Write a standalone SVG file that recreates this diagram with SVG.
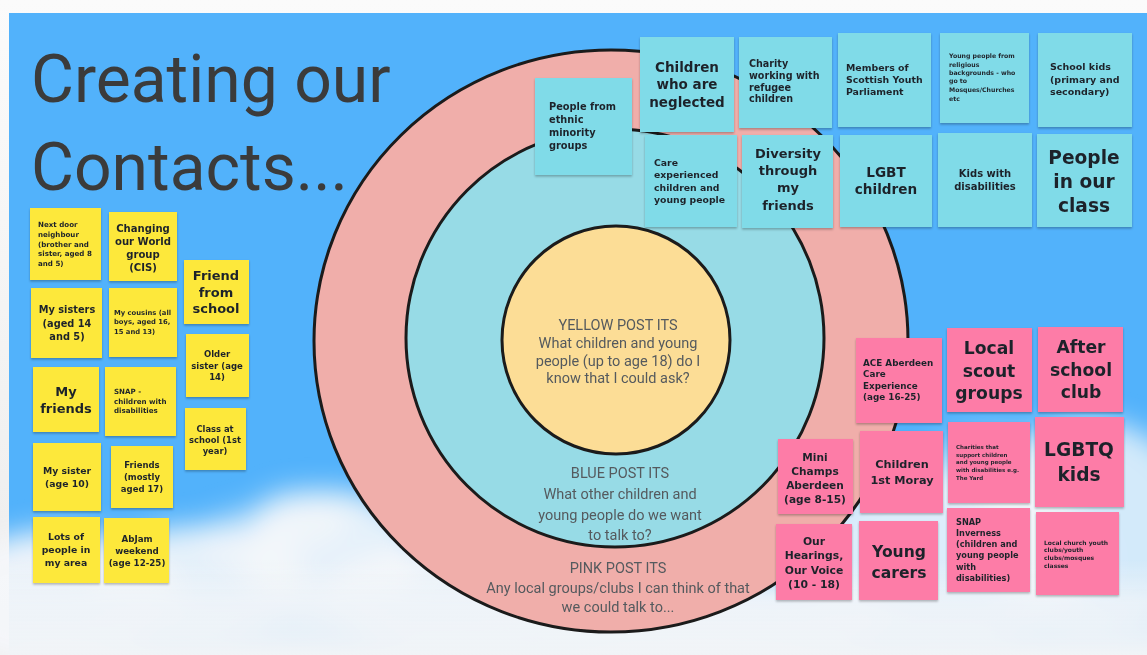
<svg xmlns="http://www.w3.org/2000/svg" width="1147" height="655" viewBox="0 0 1147 655">
  <defs>
    <style>
      .title { font-family: Roboto, "Liberation Sans", sans-serif; font-size: 66px; fill: #3b3b3b; }
      .ctext { font-family: Roboto, "Liberation Sans", sans-serif; font-size: 14.5px; fill: #555a5e; text-anchor: middle; }
      .n { font-family: "DejaVu Sans", "Liberation Sans", sans-serif; font-weight: 700; fill: #1f242b; }
      .c { text-anchor: middle; }
      .yel { fill: #fde83b; }
      .blu { fill: #80dbe8; }
      .pnk { fill: #fd7ca7; }
      .ring { stroke: #1b1b1b; stroke-width: 3; }
    </style>
    <filter id="shadow" x="-10%" y="-10%" width="125%" height="130%">
      <feDropShadow dx="0" dy="1.5" stdDeviation="1.3" flood-color="#000" flood-opacity="0.28"/>
    </filter>
    <filter id="cloudBlur" x="-20%" y="-50%" width="140%" height="200%">
      <feGaussianBlur stdDeviation="14"/>
    </filter>
    <linearGradient id="topFade" x1="0" y1="0" x2="0" y2="1">
      <stop offset="0" stop-color="#fbfbfb"/>
      <stop offset="1" stop-color="#ececec"/>
    </linearGradient>
    <linearGradient id="skyFade" x1="0" y1="0" x2="0" y2="1">
      <stop offset="0" stop-color="#eef3f8" stop-opacity="0"/>
      <stop offset="0.45" stop-color="#eef3f8" stop-opacity="0.85"/>
      <stop offset="1" stop-color="#f1f4f7"/>
    </linearGradient>
  </defs>

  <!-- page frame and sky -->
  <rect x="0" y="0" width="1147" height="655" fill="url(#topFade)"/>
  <rect x="9" y="13" width="1138" height="642" fill="#52b2fb"/>

  <!-- clouds along the bottom of the sky -->
  <g id="clouds" filter="url(#cloudBlur)" fill="#f4f7fa">
    <ellipse cx="60" cy="600" rx="120" ry="70" opacity="0.95"/>
    <ellipse cx="200" cy="585" rx="110" ry="60" opacity="0.9"/>
    <ellipse cx="330" cy="560" rx="90" ry="70" opacity="0.9"/>
    <ellipse cx="300" cy="520" rx="50" ry="30" opacity="0.7"/>
    <ellipse cx="250" cy="540" rx="50" ry="30" opacity="0.6"/>
    <ellipse cx="460" cy="600" rx="140" ry="60" opacity="0.95"/>
    <ellipse cx="700" cy="625" rx="200" ry="45" opacity="0.95"/>
    <ellipse cx="950" cy="560" rx="150" ry="90" opacity="0.85"/>
    <ellipse cx="1090" cy="530" rx="110" ry="110" opacity="0.8"/>
    <ellipse cx="1000" cy="470" rx="80" ry="40" opacity="0.5"/>
  </g>
  <rect x="9" y="560" width="1138" height="95" fill="url(#skyFade)"/>

  <!-- title -->
  <g id="title">
    <text class="title" x="31" y="102">Creating our</text>
    <text class="title" x="31" y="190">Contacts...</text>
  </g>

  <!-- concentric target circles -->
  <g id="circles">
    <ellipse id="ring-pink" class="ring" cx="611" cy="341" rx="297" ry="291" fill="#f0aeaa"/>
    <circle id="ring-blue" class="ring" cx="615" cy="338" r="209" fill="#97dbe6"/>
    <circle id="ring-yellow" class="ring" cx="616" cy="340" r="114" fill="#fcdd96"/>
  </g>

  <g id="circle-labels">
    <text class="ctext" x="618"><tspan x="618" y="330">YELLOW POST ITS</tspan><tspan x="618" y="348">What children and young</tspan><tspan x="618" y="366">people (up to age 18) do I</tspan><tspan x="618" y="383">know that I could ask?</tspan></text>
    <text class="ctext" x="620"><tspan x="620" y="478">BLUE POST ITS</tspan><tspan x="620" y="499">What other children and</tspan><tspan x="620" y="520">young people do we want</tspan><tspan x="620" y="540">to talk to?</tspan></text>
    <text class="ctext" x="618"><tspan x="618" y="573">PINK POST ITS</tspan><tspan x="618" y="593">Any local groups/clubs I can think of that</tspan><tspan x="618" y="612">we could talk to...</tspan></text>
  </g>

  <!-- yellow post-its -->
  <g id="yellow-notes">
    <g id="y-next-door" filter="url(#shadow)">
      <rect class="yel" x="30" y="208" width="71" height="72"/>
      <text class="n" font-size="7.1"><tspan x="38" y="227">Next door</tspan><tspan x="38" y="237">neighbour</tspan><tspan x="38" y="247">(brother and</tspan><tspan x="38" y="256">sister, aged 8</tspan><tspan x="38" y="266">and 5)</tspan></text>
    </g>
    <g id="y-changing-world" filter="url(#shadow)">
      <rect class="yel" x="109" y="212" width="68" height="69"/>
      <text class="n c" font-size="10.1"><tspan x="143" y="232">Changing</tspan><tspan x="143" y="245">our World</tspan><tspan x="143" y="258">group</tspan><tspan x="143" y="271">(CIS)</tspan></text>
    </g>
    <g id="y-friend-school" filter="url(#shadow)">
      <rect class="yel" x="184" y="260" width="65" height="64"/>
      <text class="n c" font-size="13"><tspan x="216" y="280">Friend</tspan><tspan x="216" y="297">from</tspan><tspan x="216" y="313">school</tspan></text>
    </g>
    <g id="y-my-sisters" filter="url(#shadow)">
      <rect class="yel" x="31" y="288" width="71" height="70"/>
      <text class="n c" font-size="9.8"><tspan x="67" y="313">My sisters</tspan><tspan x="67" y="327">(aged 14</tspan><tspan x="67" y="340">and 5)</tspan></text>
    </g>
    <g id="y-cousins" filter="url(#shadow)">
      <rect class="yel" x="109" y="288" width="68" height="69"/>
      <text class="n" font-size="6.8"><tspan x="114" y="315">My cousins (all</tspan><tspan x="114" y="324">boys, aged 16,</tspan><tspan x="114" y="334">15 and 13)</tspan></text>
    </g>
    <g id="y-older-sister" filter="url(#shadow)">
      <rect class="yel" x="186" y="334" width="63" height="63"/>
      <text class="n c" font-size="8.5"><tspan x="217" y="357">Older</tspan><tspan x="217" y="369">sister (age</tspan><tspan x="217" y="380">14)</tspan></text>
    </g>
    <g id="y-my-friends" filter="url(#shadow)">
      <rect class="yel" x="33" y="367" width="66" height="65"/>
      <text class="n c" font-size="13"><tspan x="66" y="396">My</tspan><tspan x="66" y="413">friends</tspan></text>
    </g>
    <g id="y-snap" filter="url(#shadow)">
      <rect class="yel" x="105" y="367" width="71" height="69"/>
      <text class="n" font-size="7.1"><tspan x="114" y="394">SNAP -</tspan><tspan x="114" y="404">children with</tspan><tspan x="114" y="413">disabilities</tspan></text>
    </g>
    <g id="y-class-school" filter="url(#shadow)">
      <rect class="yel" x="185" y="408" width="61" height="62"/>
      <text class="n c" font-size="8.4"><tspan x="215" y="432">Class at</tspan><tspan x="215" y="443">school (1st</tspan><tspan x="215" y="454">year)</tspan></text>
    </g>
    <g id="y-my-sister" filter="url(#shadow)">
      <rect class="yel" x="33" y="443" width="68" height="68"/>
      <text class="n c" font-size="9.3"><tspan x="67" y="474">My sister</tspan><tspan x="67" y="487">(age 10)</tspan></text>
    </g>
    <g id="y-friends-17" filter="url(#shadow)">
      <rect class="yel" x="111" y="446" width="62" height="62"/>
      <text class="n c" font-size="8.5"><tspan x="142" y="468">Friends</tspan><tspan x="142" y="480">(mostly</tspan><tspan x="142" y="492">aged 17)</tspan></text>
    </g>
    <g id="y-lots-people" filter="url(#shadow)">
      <rect class="yel" x="33" y="517" width="67" height="66"/>
      <text class="n c" font-size="9.3"><tspan x="66" y="540">Lots of</tspan><tspan x="66" y="553">people in</tspan><tspan x="66" y="566">my area</tspan></text>
    </g>
    <g id="y-abjam" filter="url(#shadow)">
      <rect class="yel" x="104" y="518" width="65" height="65"/>
      <text class="n c" font-size="8.7"><tspan x="137" y="542">AbJam</tspan><tspan x="137" y="554">weekend</tspan><tspan x="137" y="566">(age 12-25)</tspan></text>
    </g>
  </g>

  <!-- blue post-its -->
  <g id="blue-notes">
    <g id="b-ethnic" filter="url(#shadow)">
      <rect class="blu" x="535" y="78" width="97" height="97"/>
      <text class="n" font-size="9.8"><tspan x="549" y="110">People from</tspan><tspan x="549" y="123">ethnic</tspan><tspan x="549" y="136">minority</tspan><tspan x="549" y="149">groups</tspan></text>
    </g>
    <g id="b-neglected" filter="url(#shadow)">
      <rect class="blu" x="640" y="37" width="94" height="95"/>
      <text class="n c" font-size="13.5"><tspan x="687" y="72">Children</tspan><tspan x="687" y="89">who are</tspan><tspan x="687" y="107">neglected</tspan></text>
    </g>
    <g id="b-charity-refugee" filter="url(#shadow)">
      <rect class="blu" x="739" y="37" width="93" height="91"/>
      <text class="n" font-size="9.6"><tspan x="749" y="67">Charity</tspan><tspan x="749" y="79">working with</tspan><tspan x="749" y="91">refugee</tspan><tspan x="749" y="102">children</tspan></text>
    </g>
    <g id="b-care-experienced" filter="url(#shadow)">
      <rect class="blu" x="645" y="135" width="92" height="92"/>
      <text class="n" font-size="9.3"><tspan x="654" y="166">Care</tspan><tspan x="654" y="178">experienced</tspan><tspan x="654" y="191">children and</tspan><tspan x="654" y="203">young people</tspan></text>
    </g>
    <g id="b-diversity" filter="url(#shadow)">
      <rect class="blu" x="742" y="135" width="91" height="93"/>
      <text class="n c" font-size="13"><tspan x="788" y="158">Diversity</tspan><tspan x="788" y="175">through</tspan><tspan x="788" y="192">my</tspan><tspan x="788" y="210">friends</tspan></text>
    </g>
    <g id="b-msyp" filter="url(#shadow)">
      <rect class="blu" x="838" y="33" width="93" height="94"/>
      <text class="n" font-size="9.4"><tspan x="846" y="71">Members of</tspan><tspan x="846" y="83">Scottish Youth</tspan><tspan x="846" y="95">Parliament</tspan></text>
    </g>
    <g id="b-religious" filter="url(#shadow)">
      <rect class="blu" x="940" y="33" width="89" height="90"/>
      <text class="n" font-size="6.2"><tspan x="949" y="58">Young people from</tspan><tspan x="949" y="67">religious</tspan><tspan x="949" y="75">backgrounds - who</tspan><tspan x="949" y="83">go to</tspan><tspan x="949" y="92">Mosques/Churches</tspan><tspan x="949" y="101">etc</tspan></text>
    </g>
    <g id="b-school-kids" filter="url(#shadow)">
      <rect class="blu" x="1038" y="33" width="94" height="94"/>
      <text class="n" font-size="9.5"><tspan x="1050" y="70">School kids</tspan><tspan x="1050" y="83">(primary and</tspan><tspan x="1050" y="95">secondary)</tspan></text>
    </g>
    <g id="b-lgbt" filter="url(#shadow)">
      <rect class="blu" x="840" y="135" width="92" height="92"/>
      <text class="n c" font-size="13.6"><tspan x="886" y="177">LGBT</tspan><tspan x="886" y="194">children</tspan></text>
    </g>
    <g id="b-disabilities" filter="url(#shadow)">
      <rect class="blu" x="938" y="133" width="94" height="94"/>
      <text class="n c" font-size="10"><tspan x="985" y="177">Kids with</tspan><tspan x="985" y="190">disabilities</tspan></text>
    </g>
    <g id="b-our-class" filter="url(#shadow)">
      <rect class="blu" x="1037" y="134" width="95" height="93"/>
      <text class="n c" font-size="18.6"><tspan x="1084" y="164">People</tspan><tspan x="1084" y="188">in our</tspan><tspan x="1084" y="212">class</tspan></text>
    </g>
  </g>

  <!-- pink post-its -->
  <g id="pink-notes">
    <g id="p-ace" filter="url(#shadow)">
      <rect class="pnk" x="856" y="338" width="86" height="85"/>
      <text class="n" font-size="8.8"><tspan x="863" y="366">ACE Aberdeen</tspan><tspan x="863" y="377">Care</tspan><tspan x="863" y="389">Experience</tspan><tspan x="863" y="400">(age 16-25)</tspan></text>
    </g>
    <g id="p-scouts" filter="url(#shadow)">
      <rect class="pnk" x="947" y="328" width="85" height="84"/>
      <text class="n c" font-size="17.2"><tspan x="989" y="354">Local</tspan><tspan x="989" y="377">scout</tspan><tspan x="989" y="399">groups</tspan></text>
    </g>
    <g id="p-after-school" filter="url(#shadow)">
      <rect class="pnk" x="1038" y="327" width="85" height="85"/>
      <text class="n c" font-size="17.2"><tspan x="1081" y="353">After</tspan><tspan x="1081" y="376">school</tspan><tspan x="1081" y="398">club</tspan></text>
    </g>
    <g id="p-mini-champs" filter="url(#shadow)">
      <rect class="pnk" x="778" y="439" width="75" height="75"/>
      <text class="n c" font-size="10.6"><tspan x="815" y="461">Mini</tspan><tspan x="815" y="475">Champs</tspan><tspan x="815" y="489">Aberdeen</tspan><tspan x="815" y="503">(age 8-15)</tspan></text>
    </g>
    <g id="p-children-1st" filter="url(#shadow)">
      <rect class="pnk" x="860" y="431" width="83" height="82"/>
      <text class="n c" font-size="11.3"><tspan x="902" y="468">Children</tspan><tspan x="902" y="484">1st Moray</tspan></text>
    </g>
    <g id="p-charities" filter="url(#shadow)">
      <rect class="pnk" x="948" y="422" width="82" height="81"/>
      <text class="n" font-size="5.5"><tspan x="956" y="449">Charities that</tspan><tspan x="956" y="457">support children</tspan><tspan x="956" y="464">and young people</tspan><tspan x="956" y="472">with disabilities e.g.</tspan><tspan x="956" y="480">The Yard</tspan></text>
    </g>
    <g id="p-lgbtq" filter="url(#shadow)">
      <rect class="pnk" x="1035" y="417" width="89" height="90"/>
      <text class="n c" font-size="18.6"><tspan x="1079" y="456">LGBTQ</tspan><tspan x="1079" y="481">kids</tspan></text>
    </g>
    <g id="p-hearings" filter="url(#shadow)">
      <rect class="pnk" x="776" y="524" width="76" height="76"/>
      <text class="n c" font-size="10.8"><tspan x="814" y="545">Our</tspan><tspan x="814" y="559">Hearings,</tspan><tspan x="814" y="574">Our Voice</tspan><tspan x="814" y="588">(10 - 18)</tspan></text>
    </g>
    <g id="p-young-carers" filter="url(#shadow)">
      <rect class="pnk" x="859" y="521" width="79" height="79"/>
      <text class="n c" font-size="15.6"><tspan x="899" y="557">Young</tspan><tspan x="899" y="578">carers</tspan></text>
    </g>
    <g id="p-snap-inverness" filter="url(#shadow)">
      <rect class="pnk" x="947" y="508" width="83" height="84"/>
      <text class="n" font-size="8.2"><tspan x="956" y="525">SNAP</tspan><tspan x="956" y="536">Inverness</tspan><tspan x="956" y="547">(children and</tspan><tspan x="956" y="558">young people</tspan><tspan x="956" y="570">with</tspan><tspan x="956" y="581">disabilities)</tspan></text>
    </g>
    <g id="p-church-clubs" filter="url(#shadow)">
      <rect class="pnk" x="1036" y="512" width="83" height="83"/>
      <text class="n" font-size="6"><tspan x="1044" y="545">Local church youth</tspan><tspan x="1044" y="552">clubs/youth</tspan><tspan x="1044" y="560">clubs/mosques</tspan><tspan x="1044" y="568">classes</tspan></text>
    </g>
  </g>
</svg>
